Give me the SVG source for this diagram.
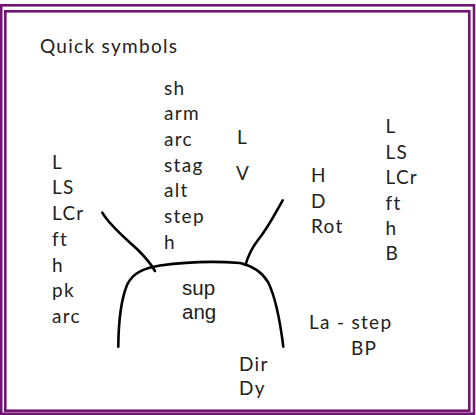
<svg xmlns="http://www.w3.org/2000/svg" width="476" height="415" viewBox="0 0 476 415">
<style>
.frame{fill:none;stroke:#701672;stroke-width:2.6}
.t{font-family:Lato,"Open Sans",sans-serif;font-size:19px;fill:#222;letter-spacing:1.3px}
.a{font-family:"Liberation Sans",Arial,sans-serif;font-size:20.5px;fill:#1e1e1e}
.c{fill:none;stroke:#000;stroke-width:2.6;stroke-linecap:round;stroke-linejoin:round}
</style>
<rect width="476" height="415" fill="#fff"/>
<rect class="frame" x="1.2" y="5.3" width="472.8" height="408.4"/>
<rect class="frame" x="5.3" y="11.3" width="464" height="399.4"/>
<g id="title"><text class="t" x="40" y="53">Quick symbols</text></g>
<g id="left-list">
<text class="t" x="52" y="168.5">L</text>
<text class="t" x="52" y="194.2">LS</text>
<text class="t" x="52" y="220">LCr</text>
<text class="t" x="52" y="245.8">ft</text>
<text class="t" x="52" y="271.6">h</text>
<text class="t" x="52" y="297.4">pk</text>
<text class="t" x="52" y="323.2">arc</text>
</g>
<g id="top-list">
<text class="t" x="164" y="94.5">sh</text>
<text class="t" x="164" y="120.2">arm</text>
<text class="t" x="164" y="145.9">arc</text>
<text class="t" x="164" y="171.6">stag</text>
<text class="t" x="164" y="197.3">alt</text>
<text class="t" x="164" y="223">step</text>
<text class="t" x="164" y="248.7">h</text>
</g>
<g id="lv">
<text class="t" x="237" y="143.5">L</text>
<text class="t" x="236" y="180">V</text>
</g>
<g id="hdrot">
<text class="t" x="311" y="182">H</text>
<text class="t" x="311" y="207.5">D</text>
<text class="t" x="311" y="232.5">Rot</text>
</g>
<g id="right-list">
<text class="t" x="385.5" y="133">L</text>
<text class="t" x="385.5" y="158.5">LS</text>
<text class="t" x="385.5" y="184">LCr</text>
<text class="t" x="385.5" y="209.5">ft</text>
<text class="t" x="385.5" y="235">h</text>
<text class="t" x="385.5" y="260">B</text>
</g>
<g id="body">
<text class="a" x="182" y="295">sup</text>
<text class="a" x="182" y="319">ang</text>
</g>
<g id="lastep">
<text class="t" x="309" y="329">La - step</text>
<text class="t" x="351" y="355">BP</text>
</g>
<g id="dirdy">
<text class="t" x="239" y="370.7">Dir</text>
<text class="t" x="239" y="395">Dy</text>
</g>
<g id="connectors">
<path class="c" d="M102.3,212.7 C110,226 125,238 138,250 C146,258 151,264 155,271"/>
<path class="c" d="M282.7,200.3 C276,212 268,228 258,240 C251,249 248,256 245.5,265"/>
<path class="c" d="M118.3,346.7 C118.5,320 121,300 127,285 C133,272 145,268 160,265.5 C185,262 215,261 240,263 C253,266 262,272 268,282 C276,298 280,320 283.3,346.7"/>
</g>
</svg>
